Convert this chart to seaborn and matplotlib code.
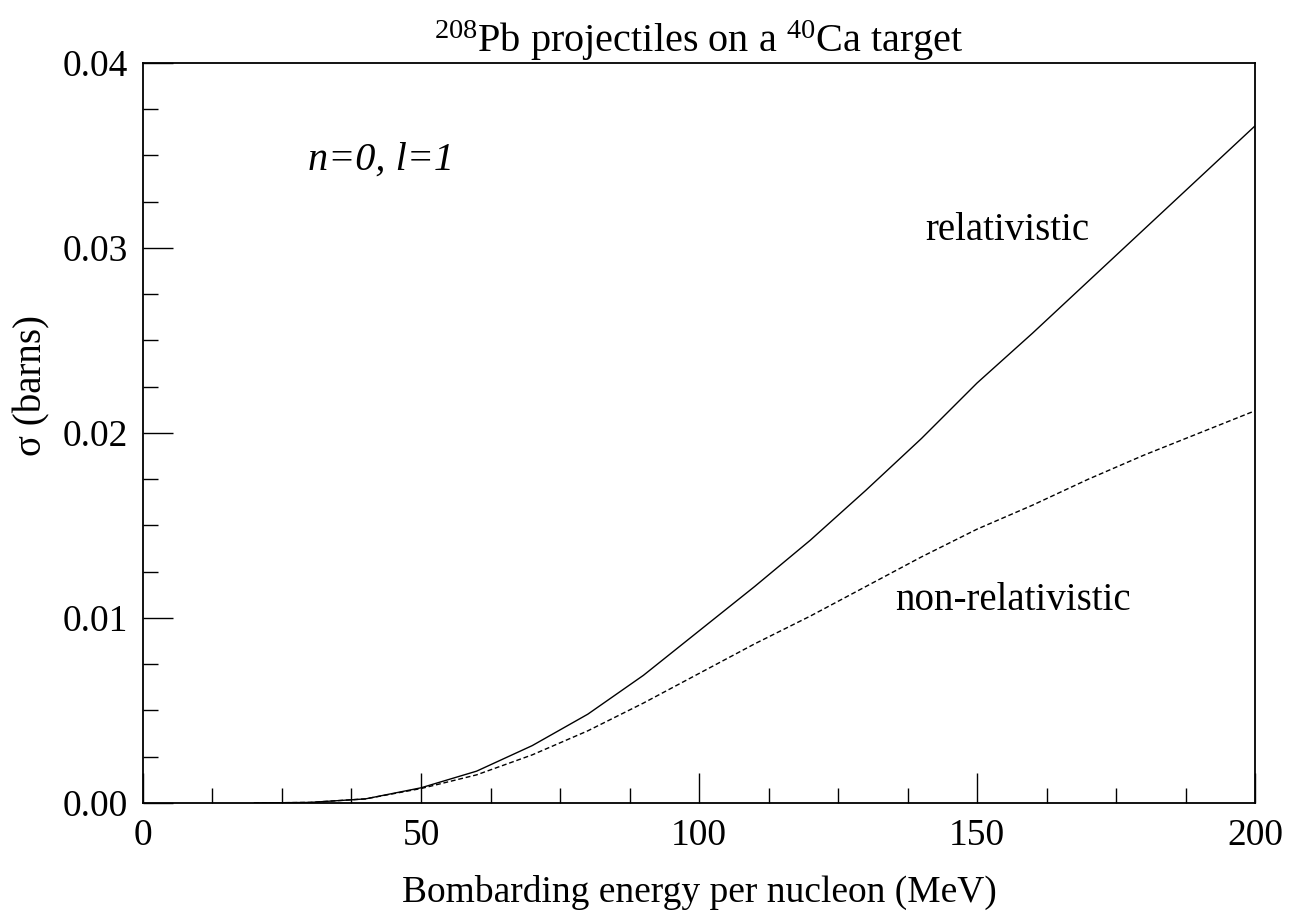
#!/usr/bin/env python3
"""Cross section vs bombarding energy, 208Pb on 40Ca."""

import matplotlib

matplotlib.use("Agg")
import matplotlib.pyplot as plt
import numpy as np
import pandas as pd
import seaborn as sns
from matplotlib.ticker import FormatStrFormatter, MultipleLocator

ENERGY = [20, 30, 40, 50, 60, 70, 80, 90, 100, 110, 120, 130, 140, 150, 160, 170, 180, 190, 200]
SIGMA_REL = [0.0, 0.00003, 0.00022, 0.00082, 0.00172, 0.0031, 0.0048, 0.0069, 0.0093, 0.0117,
             0.0142, 0.0169, 0.0197, 0.0227, 0.0254, 0.0282, 0.0310, 0.0338, 0.0366]
SIGMA_NONREL = [0.0, 0.00003, 0.00022, 0.00078, 0.00152, 0.0026, 0.0039, 0.0054, 0.0070, 0.0086,
                0.0101, 0.0117, 0.0133, 0.0148, 0.0161, 0.0175, 0.0188, 0.0200, 0.0212]

SERIF = ["Liberation Serif", "DejaVu Serif"]


def main() -> None:
    sns.set_theme(style="white")
    plt.rcParams["font.family"] = SERIF
    plt.rcParams.update(
        {
            "text.color": "black",
            "axes.labelcolor": "black",
            "xtick.color": "black",
            "ytick.color": "black",
            "mathtext.fontset": "custom",
            "mathtext.rm": "Liberation Serif",
            "mathtext.it": "Liberation Serif:italic",
        }
    )

    df = pd.DataFrame({"E": ENERGY, "rel": SIGMA_REL, "nonrel": SIGMA_NONREL})

    fig = plt.figure(figsize=(12.94, 9.18), dpi=100)
    ax = fig.add_axes([0.1105, 0.1253, 0.8594, 0.8061])

    sns.lineplot(data=df, x="E", y="rel", ax=ax, color="black", linewidth=1.0)
    sns.lineplot(data=df, x="E", y="nonrel", ax=ax, color="black", linewidth=1.0,
                 linestyle=(0, (3.5, 2)))

    ax.set_xlim(0, 200)
    ax.set_ylim(0, 0.04)
    ax.xaxis.set_major_locator(MultipleLocator(50))
    ax.xaxis.set_minor_locator(MultipleLocator(12.5))
    ax.yaxis.set_major_locator(MultipleLocator(0.01))
    ax.yaxis.set_minor_locator(MultipleLocator(0.0025))
    ax.yaxis.set_major_formatter(FormatStrFormatter("%.2f"))
    ax.tick_params(which="both", direction="in", bottom=True, left=True, top=False, right=False,
                   width=1.0, color="black", labelcolor="black", labelsize=27, pad=11)
    ax.tick_params(which="major", length=21.5)
    ax.tick_params(which="minor", length=10.8)
    for spine in ax.spines.values():
        spine.set_color("black")
        spine.set_linewidth(1.3)

    ax.set_xlabel("Bombarding energy per nucleon (MeV)", fontsize=27, labelpad=16)
    ax.set_ylabel("")
    fig.text(0.025, 0.58, "σ (barns)", rotation=90, fontsize=28,
             family=["Liberation Serif", "DejaVu Sans"], ha="center", va="center")
    ax.set_title(r"$^{208}$Pb projectiles on a $^{40}$Ca target", fontsize=29, pad=7)

    ax.text(0.148, 0.869, "n=0, l=1", transform=ax.transAxes, fontsize=29, style="italic",
            va="center")
    ax.text(0.703, 0.774, "relativistic", transform=ax.transAxes, fontsize=28, va="center")
    ax.text(0.676, 0.274, "non-relativistic", transform=ax.transAxes, fontsize=28, va="center")

    fig.savefig("out.png", dpi=100)
    plt.close(fig)


if __name__ == "__main__":
    main()
